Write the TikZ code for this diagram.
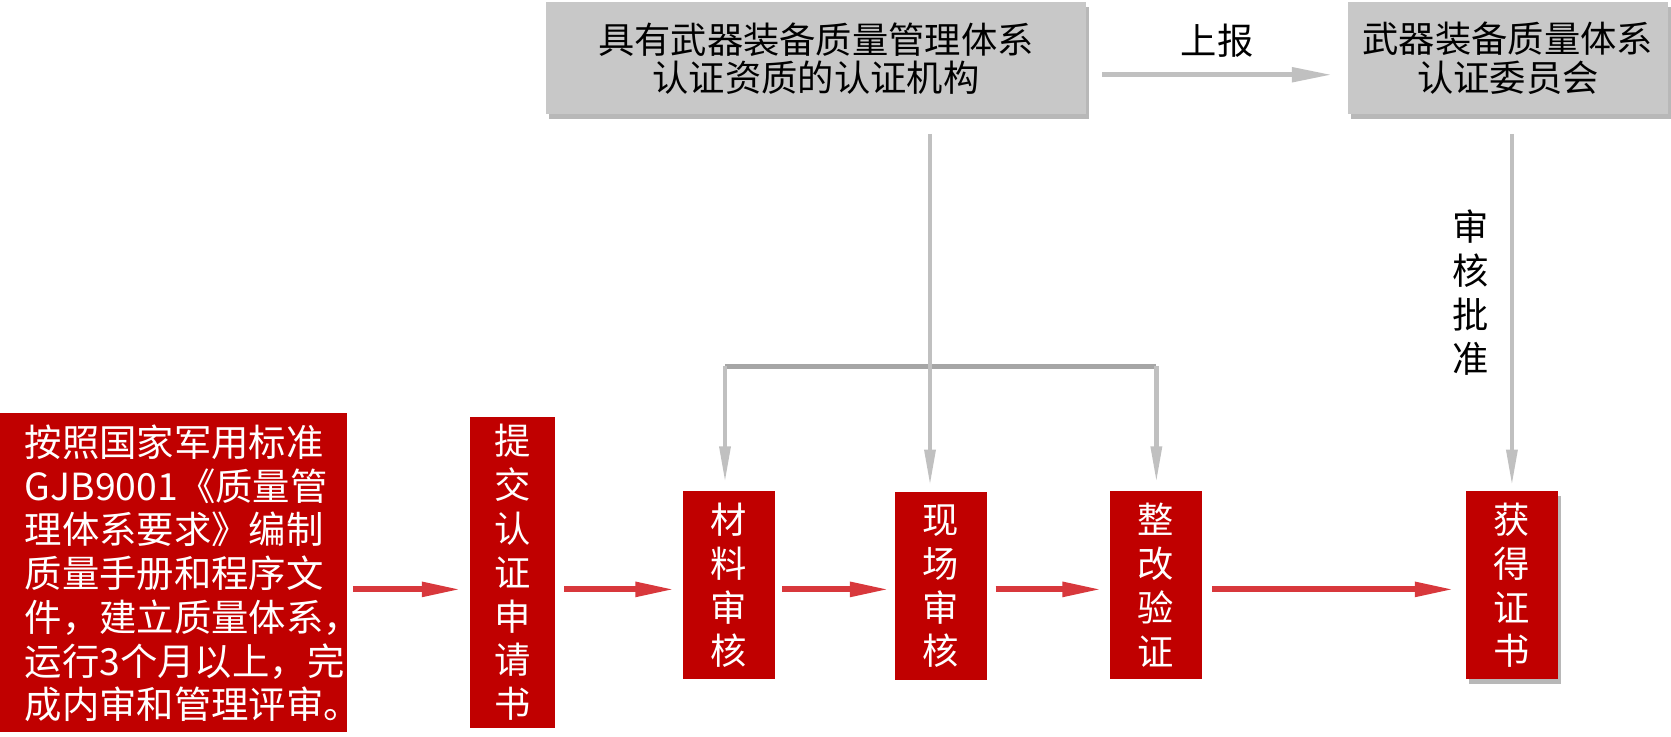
\documentclass[tikz,border=0pt]{standalone}
\usepackage{fontspec}
\setmainfont{Noto Sans CJK SC}
\usetikzlibrary{arrows.meta,shadows}
\definecolor{boxred}{RGB}{192,0,0}
\definecolor{boxgray}{RGB}{200,200,200}
\definecolor{linegray}{RGB}{192,192,192}
\definecolor{bargray}{RGB}{166,166,166}
\definecolor{arrred}{RGB}{216,56,60}
\tikzset{
  boxshadow/.style={drop shadow={shadow xshift=3pt,shadow yshift=-4pt,fill=black,opacity=.28}},
  redbox/.style={fill=boxred,text=white,inner sep=0pt,anchor=north west,align=center,
    font=\fontsize{34}{41}\selectfont},
  graybox/.style={fill=boxgray,inner sep=0pt,anchor=north west,align=center,
    font=\fontsize{34}{36}\selectfont,boxshadow},
  plaintext/.style={inner sep=0pt,align=center,font=\fontsize{34}{41}\selectfont},
  redarrow/.style={draw=arrred,line width=5.5pt,-{Triangle[length=37pt,width=13pt]}},
  grayarrow/.style={draw=linegray,line width=4pt,-{Triangle[length=34pt,width=10pt]}},
  barline/.style={draw=bargray,line width=5pt},
}
\begin{document}
\begin{tikzpicture}[x=1pt,y=-1pt]
\useasboundingbox (0,0) rectangle (1565,690);
% boxes
\node[redbox,minimum width=325pt,minimum height=298pt] (big) at (0,387) {};
\node[plaintext,align=left,text=white,anchor=west,font=\fontsize{35}{41}\selectfont] (bigtxt) at (23,537)
  {按照国家军用标准\\GJB9001《质量管\\理体系要求》编制\\质量手册和程序文\\件，建立质量体系，\\运行3个月以上，完\\成内审和管理评审。};
\node[redbox,minimum width=80pt,minimum height=292pt] (req) at (440,390) {提\\交\\认\\证\\申\\请\\书};
\node[redbox,minimum width=87pt,minimum height=176pt] (mat) at (639,460) {材\\料\\审\\核};
\node[redbox,minimum width=86pt,minimum height=176pt] (site) at (838,461) {现\\场\\审\\核};
\node[redbox,minimum width=87pt,minimum height=176pt] (fix) at (1039,460) {整\\改\\验\\证};
\node[redbox,boxshadow,minimum width=86pt,minimum height=176pt] (cert) at (1373,460) {获\\得\\证\\书};
\node[graybox,minimum width=506pt,minimum height=105pt] (org) at (511,2) {具有武器装备质量管理体系\\认证资质的认证机构};
\node[graybox,minimum width=300pt,minimum height=105pt] (comm) at (1262,2) {武器装备质量体系\\认证委员会};
% labels
\node[plaintext] (report) at (1140,38) {上报};
\node[plaintext] (approve) at (1377,274) {审\\核\\批\\准};
% helper coordinates
\coordinate (ay) at (0,552);
\coordinate (ry) at (0,70);
\coordinate (jc) at (871,343);
\coordinate (jl) at (679,343);
\coordinate (jr) at (1083,343);
\coordinate (vr) at (1416,0);
% top report arrow
\draw[grayarrow,line width=5pt,-{Triangle[length=38pt,width=13pt]},shorten <=15pt,shorten >=14pt]
  (org.east |- ry) -- (comm.west |- ry);
% distribution lines
\draw[barline] (jl) -- (jr);
\draw[grayarrow,shorten <=18pt,shorten >=6pt] (org.south -| jc) -- (site.north -| jc);
\draw[grayarrow,shorten >=8pt] (jl) -- (mat.north -| jl);
\draw[grayarrow,shorten >=8pt] (jr) -- (fix.north -| jr);
\draw[grayarrow,shorten <=18pt,shorten >=5pt] (comm.south -| vr) -- (cert.north -| vr);
% red flow arrows
\draw[redarrow,shorten <=5pt,shorten >=8pt] (big.east |- ay) -- (req.west |- ay);
\draw[redarrow,shorten <=8pt,shorten >=7pt] (req.east |- ay) -- (mat.west |- ay);
\draw[redarrow,shorten <=6pt,shorten >=5pt] (mat.east |- ay) -- (site.west |- ay);
\draw[redarrow,shorten <=8pt,shorten >=7pt] (site.east |- ay) -- (fix.west |- ay);
\draw[redarrow,shorten <=9pt,shorten >=11pt] (fix.east |- ay) -- (cert.west |- ay);
\end{tikzpicture}
\end{document}
